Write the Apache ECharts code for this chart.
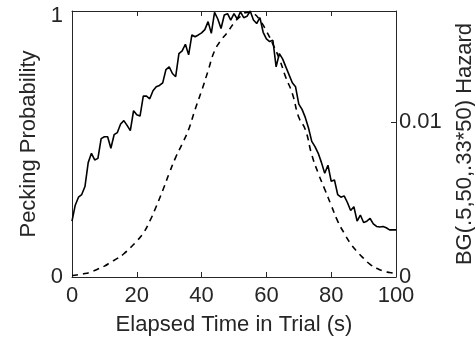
<!DOCTYPE html>
<html>
<head>
<meta charset="utf-8">
<script src="https://cdn.jsdelivr.net/npm/echarts@6/dist/echarts.min.js"></script>
<style>html,body{margin:0;padding:0;background:#fff;}#c{width:475px;height:339px;}</style>
</head>
<body>
<div id="c"></div>
<script>
// Pecking probability, one value per second (0..100 s)
const peckX = Array.from({length: 101}, (_, i) => i);
const peckY = [0.21,0.27,0.30,0.31,0.34,0.43,0.465,0.44,0.446,0.52,
0.527,0.527,0.484,0.535,0.543,0.575,0.588,0.57,0.55,0.625,
0.61,0.605,0.68,0.68,0.67,0.70,0.715,0.72,0.73,0.78,
0.79,0.765,0.753,0.84,0.85,0.875,0.835,0.91,0.903,0.91,
0.918,0.93,0.96,0.916,0.995,0.97,0.934,0.985,0.99,0.966,
0.99,0.97,0.997,0.975,0.98,1.0,0.966,0.953,0.975,0.92,
0.895,0.885,0.89,0.79,0.84,0.82,0.79,0.76,0.73,0.715,
0.65,0.63,0.60,0.56,0.51,0.49,0.465,0.43,0.39,0.42,
0.36,0.365,0.31,0.30,0.305,0.28,0.25,0.264,0.21,0.233,
0.205,0.21,0.22,0.20,0.19,0.188,0.19,0.185,0.177,0.177,0.177];
// Hazard curve, every 2 s
const hazX = Array.from({length: 51}, (_, i) => i * 2);
const hazY = [0.0001,0.00015,0.00022,0.00034,0.00051,0.0007,0.00096,0.0012,0.0015,0.00189,
0.00232,0.00283,0.0036,0.00455,0.00558,0.00669,0.00772,0.00858,0.00952,0.01081,
0.01201,0.0133,0.01459,0.01527,0.01579,0.01639,0.01682,0.01707,0.01699,0.01656,
0.01587,0.01502,0.01407,0.01287,0.01184,0.0103,0.00952,0.00789,0.00669,0.00566,
0.00463,0.0036,0.00283,0.00215,0.00163,0.0012,0.00082,0.00057,0.00039,0.00029,0.00022];
const xTicks = [0, 20, 40, 60, 80, 100];
const hazMax = 0.01716;

const txt = '#262626';
const font = 'Liberation Sans, Arial, Helvetica, sans-serif';
const fs = 22;
const chart = echarts.init(document.getElementById('c'));
const axLine = {show: true, onZero: false, lineStyle: {color: txt, width: 1}};
const tick = {show: true, inside: true, length: 5, lineStyle: {color: txt}};
chart.setOption({
  animation: false,
  grid: {left: 72, right: 79, top: 11, bottom: 62, containLabel: false, outerBoundsMode: 'none'},
  xAxis: [{
    type: 'value', min: 0, max: 100, interval: 20, position: 'bottom',
    axisLine: axLine, axisTick: tick,
    axisLabel: {color: txt, fontSize: fs, fontFamily: font, margin: 8,
      formatter: v => xTicks.includes(v) ? String(v) : ''},
    splitLine: {show: false},
    name: 'Elapsed Time in Trial (s)', nameLocation: 'middle', nameGap: 37,
    nameTextStyle: {color: txt, fontSize: fs, fontFamily: font}
  }, {
    type: 'value', min: 0, max: 100, interval: 20, position: 'top',
    axisLine: axLine, axisTick: tick,
    axisLabel: {show: false}, splitLine: {show: false}
  }],
  yAxis: [{
    type: 'value', min: 0, max: 1, interval: 1, position: 'left',
    axisLine: axLine, axisTick: tick,
    axisLabel: {color: txt, fontSize: fs, fontFamily: font, margin: 9,
      formatter: v => v === 1 ? '{t|1}' : String(v),
      rich: {t: {fontSize: fs, fontFamily: font, color: txt, padding: [10, 0, 0, 0]}}},
    splitLine: {show: false},
    name: 'Pecking Probability', nameLocation: 'middle', nameGap: 30,
    nameTextStyle: {color: txt, fontSize: fs, fontFamily: font}
  }, {
    type: 'value', min: 0, max: hazMax, interval: 0.01, position: 'right',
    axisLine: axLine, axisTick: tick,
    axisLabel: {color: txt, fontSize: fs, fontFamily: font, margin: 3, showMaxLabel: false,
      formatter: v => v === 0 ? '0' : String(+v.toFixed(2))},
    splitLine: {show: false},
    name: 'BG(.5,50,.33*50) Hazard', nameLocation: 'middle', nameGap: 58, nameRotate: 90,
    nameTextStyle: {color: txt, fontSize: fs, fontFamily: font}
  }],
  series: [{
    type: 'line', xAxisIndex: 0, yAxisIndex: 0,
    data: peckX.map((x, i) => [x, peckY[i]]),
    showSymbol: false, lineStyle: {color: '#000', width: 1.6}
  }, {
    type: 'line', xAxisIndex: 0, yAxisIndex: 1,
    data: hazX.map((x, i) => [x, hazY[i]]),
    showSymbol: false, smooth: true,
    lineStyle: {color: '#000', width: 1.6, type: [6, 5]}
  }]
});
</script>
</body>
</html>
